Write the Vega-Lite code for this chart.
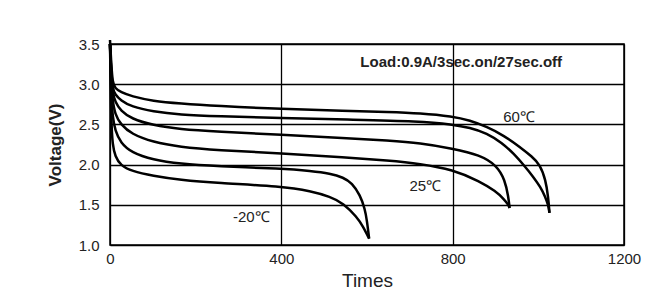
{
  "$schema": "https://vega.github.io/schema/vega-lite/v6.json",
  "width": 514,
  "height": 201,
  "autosize": {"type": "none"},
  "padding": {"left": 110, "top": 44, "right": 37, "bottom": 53},
  "background": "white",
  "config": {
    "view": {"stroke": "black", "strokeWidth": 1.5},
    "font": "Liberation Sans",
    "axis": {
      "grid": true,
      "gridColor": "black",
      "gridOpacity": 1,
      "gridWidth": 1.3,
      "domain": false,
      "ticks": false,
      "labelFlush": false,
      "labelColor": "#222",
      "labelFont": "Liberation Sans",
      "labelFontSize": 15,
      "titleColor": "#222"
    }
  },
  "datasets": {
    "curves": [
      {"s":"60U","i":0,"t":0,"v":3.55},{"s":"60U","i":1,"t":3,"v":3.25},{"s":"60U","i":2,"t":6,"v":3.02},{"s":"60U","i":3,"t":12,"v":2.95},{"s":"60U","i":4,"t":25,"v":2.9},{"s":"60U","i":5,"t":50,"v":2.85},{"s":"60U","i":6,"t":100,"v":2.79},{"s":"60U","i":7,"t":163,"v":2.76},{"s":"60U","i":8,"t":250,"v":2.73},{"s":"60U","i":9,"t":400,"v":2.69},{"s":"60U","i":10,"t":550,"v":2.67},{"s":"60U","i":11,"t":650,"v":2.655},{"s":"60U","i":12,"t":724,"v":2.64},{"s":"60U","i":13,"t":800,"v":2.6},{"s":"60U","i":14,"t":840,"v":2.55},{"s":"60U","i":15,"t":880,"v":2.47},{"s":"60U","i":16,"t":920,"v":2.36},{"s":"60U","i":17,"t":957,"v":2.22},{"s":"60U","i":18,"t":985,"v":2.1},{"s":"60U","i":19,"t":1004,"v":2.0},{"s":"60U","i":20,"t":1017,"v":1.81},{"s":"60U","i":21,"t":1023,"v":1.6},{"s":"60U","i":22,"t":1026,"v":1.4},
      {"s":"60L","i":0,"t":0,"v":3.5},{"s":"60L","i":1,"t":3,"v":3.15},{"s":"60L","i":2,"t":6,"v":2.95},{"s":"60L","i":3,"t":12,"v":2.87},{"s":"60L","i":4,"t":25,"v":2.8},{"s":"60L","i":5,"t":50,"v":2.72},{"s":"60L","i":6,"t":100,"v":2.66},{"s":"60L","i":7,"t":163,"v":2.62},{"s":"60L","i":8,"t":250,"v":2.6},{"s":"60L","i":9,"t":400,"v":2.58},{"s":"60L","i":10,"t":550,"v":2.56},{"s":"60L","i":11,"t":724,"v":2.54},{"s":"60L","i":12,"t":800,"v":2.5},{"s":"60L","i":13,"t":840,"v":2.46},{"s":"60L","i":14,"t":880,"v":2.39},{"s":"60L","i":15,"t":915,"v":2.27},{"s":"60L","i":16,"t":942,"v":2.14},{"s":"60L","i":17,"t":968,"v":1.98},{"s":"60L","i":18,"t":988,"v":1.85},{"s":"60L","i":19,"t":1005,"v":1.72},{"s":"60L","i":20,"t":1016,"v":1.6},{"s":"60L","i":21,"t":1023,"v":1.5},{"s":"60L","i":22,"t":1026,"v":1.4},
      {"s":"25U","i":0,"t":0,"v":3.5},{"s":"25U","i":1,"t":3,"v":3.1},{"s":"25U","i":2,"t":6,"v":2.9},{"s":"25U","i":3,"t":12,"v":2.78},{"s":"25U","i":4,"t":25,"v":2.67},{"s":"25U","i":5,"t":50,"v":2.57},{"s":"25U","i":6,"t":100,"v":2.49},{"s":"25U","i":7,"t":163,"v":2.44},{"s":"25U","i":8,"t":250,"v":2.41},{"s":"25U","i":9,"t":400,"v":2.37},{"s":"25U","i":10,"t":550,"v":2.33},{"s":"25U","i":11,"t":650,"v":2.3},{"s":"25U","i":12,"t":724,"v":2.27},{"s":"25U","i":13,"t":800,"v":2.2},{"s":"25U","i":14,"t":864,"v":2.12},{"s":"25U","i":15,"t":903,"v":1.99},{"s":"25U","i":16,"t":922,"v":1.81},{"s":"25U","i":17,"t":930,"v":1.6},{"s":"25U","i":18,"t":933,"v":1.46},
      {"s":"25L","i":0,"t":0,"v":3.5},{"s":"25L","i":1,"t":3,"v":3.0},{"s":"25L","i":2,"t":6,"v":2.8},{"s":"25L","i":3,"t":12,"v":2.62},{"s":"25L","i":4,"t":25,"v":2.5},{"s":"25L","i":5,"t":50,"v":2.38},{"s":"25L","i":6,"t":100,"v":2.28},{"s":"25L","i":7,"t":163,"v":2.22},{"s":"25L","i":8,"t":250,"v":2.18},{"s":"25L","i":9,"t":400,"v":2.14},{"s":"25L","i":10,"t":550,"v":2.09},{"s":"25L","i":11,"t":650,"v":2.05},{"s":"25L","i":12,"t":724,"v":2.01},{"s":"25L","i":13,"t":800,"v":1.94},{"s":"25L","i":14,"t":864,"v":1.79},{"s":"25L","i":15,"t":900,"v":1.67},{"s":"25L","i":16,"t":920,"v":1.57},{"s":"25L","i":17,"t":930,"v":1.5},{"s":"25L","i":18,"t":933,"v":1.46},
      {"s":"-20U","i":0,"t":0,"v":3.5},{"s":"-20U","i":1,"t":3,"v":2.85},{"s":"-20U","i":2,"t":6,"v":2.6},{"s":"-20U","i":3,"t":12,"v":2.42},{"s":"-20U","i":4,"t":25,"v":2.27},{"s":"-20U","i":5,"t":50,"v":2.15},{"s":"-20U","i":6,"t":100,"v":2.06},{"s":"-20U","i":7,"t":163,"v":2.01},{"s":"-20U","i":8,"t":250,"v":1.98},{"s":"-20U","i":9,"t":400,"v":1.95},{"s":"-20U","i":10,"t":470,"v":1.92},{"s":"-20U","i":11,"t":514,"v":1.89},{"s":"-20U","i":12,"t":545,"v":1.84},{"s":"-20U","i":13,"t":565,"v":1.77},{"s":"-20U","i":14,"t":584,"v":1.62},{"s":"-20U","i":15,"t":595,"v":1.45},{"s":"-20U","i":16,"t":600,"v":1.3},{"s":"-20U","i":17,"t":605,"v":1.08},
      {"s":"-20L","i":0,"t":0,"v":3.5},{"s":"-20L","i":1,"t":3,"v":2.5},{"s":"-20L","i":2,"t":6,"v":2.25},{"s":"-20L","i":3,"t":12,"v":2.1},{"s":"-20L","i":4,"t":25,"v":1.99},{"s":"-20L","i":5,"t":50,"v":1.92},{"s":"-20L","i":6,"t":100,"v":1.86},{"s":"-20L","i":7,"t":163,"v":1.81},{"s":"-20L","i":8,"t":250,"v":1.77},{"s":"-20L","i":9,"t":400,"v":1.73},{"s":"-20L","i":10,"t":470,"v":1.67},{"s":"-20L","i":11,"t":514,"v":1.6},{"s":"-20L","i":12,"t":545,"v":1.52},{"s":"-20L","i":13,"t":576,"v":1.35},{"s":"-20L","i":14,"t":592,"v":1.22},{"s":"-20L","i":15,"t":600,"v":1.13},{"s":"-20L","i":16,"t":605,"v":1.08}
    ],
    "labels": [
      {"label": "60℃", "t": 955, "v": 2.59},
      {"label": "25℃", "t": 736, "v": 1.73},
      {"label": "-20℃", "t": 330, "v": 1.35}
    ],
    "note": [
      {"label": "Load:0.9A/3sec.on/27sec.off", "t": 820, "v": 3.28}
    ]
  },
  "layer": [
    {
      "data": {"name": "curves"},
      "mark": {"type": "line", "color": "black", "strokeWidth": 2.5, "interpolate": "basis"},
      "encoding": {
        "x": {
          "field": "t", "type": "quantitative",
          "scale": {"domain": [0, 1200], "nice": false},
          "axis": {"values": [0, 400, 800, 1200], "format": "d", "title": "Times", "titleFontSize": 19, "titleFontWeight": "normal", "labelPadding": 6, "titlePadding": 5}
        },
        "y": {
          "field": "v", "type": "quantitative",
          "scale": {"domain": [1.0, 3.5], "nice": false, "zero": false},
          "axis": {"values": [1.0, 1.5, 2.0, 2.5, 3.0, 3.5], "format": ".1f", "title": "Voltage(V)", "titleFontSize": 17, "titleFontWeight": "bold", "labelPadding": 11, "titlePadding": 14}
        },
        "detail": {"field": "s"},
        "order": {"field": "i"}
      }
    },
    {
      "data": {"name": "labels"},
      "mark": {"type": "text", "fontSize": 15, "color": "#222", "font": "Liberation Sans"},
      "encoding": {
        "x": {"field": "t", "type": "quantitative"},
        "y": {"field": "v", "type": "quantitative"},
        "text": {"field": "label"}
      }
    },
    {
      "data": {"name": "note"},
      "mark": {"type": "text", "fontSize": 15, "fontWeight": "bold", "color": "#222", "font": "Liberation Sans"},
      "encoding": {
        "x": {"field": "t", "type": "quantitative"},
        "y": {"field": "v", "type": "quantitative"},
        "text": {"field": "label"}
      }
    }
  ]
}
